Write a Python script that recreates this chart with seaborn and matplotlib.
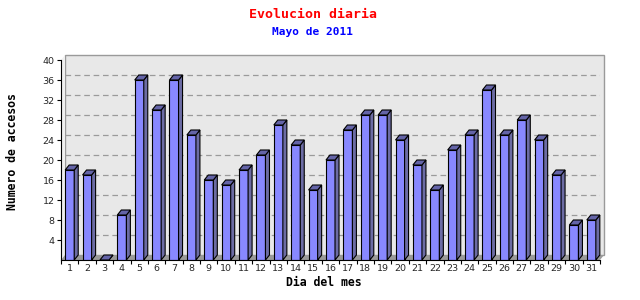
import matplotlib
matplotlib.use("Agg")
import matplotlib.pyplot as plt
import matplotlib.transforms as mtransforms
from matplotlib.patches import Polygon, Rectangle
import seaborn as sns
import pandas as pd
import numpy as np

# ---- data ----
dias = [str(d) for d in range(1, 32)]
accesos = [18, 17, 0, 9, 36, 30, 36, 25, 16, 15, 18, 21, 27, 23, 14, 20,
           26, 29, 29, 24, 19, 14, 22, 25, 34, 25, 28, 24, 17, 7, 8]
y_ticks = [4, 8, 12, 16, 20, 24, 28, 32, 36, 40]

titulo = "Evolucion diaria"
subtitulo = "Mayo de 2011"
xlabel = "Dia del mes"
ylabel = "Numero de accesos"

# ---- style ----
sns.set_theme(style="white")
plt.rcParams["font.family"] = ["DejaVu Sans"]
MONO = "DejaVu Sans Mono"

W, H = 640, 300
fig = plt.figure(figsize=(W / 100, H / 100), dpi=100)
fig.patch.set_facecolor("white")

L, R, B, T = 61, 600, 260, 60  # front plane in pixels (T/B from top)
ax = fig.add_axes([L / W, (H - B) / H, (R - L) / W, (B - T) / H])
ax.set_facecolor("none")

df = pd.DataFrame({"dia": dias, "accesos": accesos})
sns.barplot(data=df, x="dia", y="accesos", color="#8888ff", saturation=1,
            width=0.52, edgecolor="black", linewidth=0.8, ax=ax, zorder=4)

n = len(dias)
ax.set_xlim(-0.5, n - 0.5)
ax.set_ylim(0, 40)

DXP, DYP = 4, 5
dx = DXP / ((R - L) / n)
dy = DYP / ((B - T) / 40)
off = mtransforms.ScaledTranslation(DXP / 100, DYP / 100, fig.dpi_scale_trans)

# back plane
ax.add_patch(Rectangle((0, 0), 1, 1, transform=ax.transAxes + off,
                       facecolor="#e8e8e8", edgecolor="#9a9a9a", lw=1,
                       zorder=0, clip_on=False))
# left wall
x0l = -0.5
ax.add_patch(Polygon([(x0l, 0), (x0l + dx, dy), (x0l + dx, 40 + dy), (x0l, 40)],
                     closed=True, facecolor="#f0f0f0", edgecolor="none",
                     zorder=0.5, clip_on=False))
# floor
x1r = n - 0.5
ax.add_patch(Polygon([(x0l, 0), (x1r, 0), (x1r + dx, dy), (x0l + dx, dy)],
                     closed=True, facecolor="#9a9a9a", edgecolor="none",
                     zorder=1, clip_on=False))
# gridlines on back plane
ax.hlines(y_ticks[:-1], x0l, x1r, transform=ax.transData + off,
          colors="#9a9a9a", linestyles=(0, (4.5, 3)), linewidth=0.9, zorder=2)

# 3D bar sides and tops
for p in list(ax.patches):
    if not isinstance(p, Rectangle) or p.get_zorder() != 4:
        continue
    x0 = p.get_x()
    w = p.get_width()
    h = p.get_height()
    top = Polygon([(x0, h), (x0 + w, h), (x0 + w + dx, h + dy), (x0 + dx, h + dy)],
                  closed=True, facecolor="#6464a8", edgecolor="black", lw=0.8,
                  zorder=4, clip_on=False)
    side = Polygon([(x0 + w, 0), (x0 + w + dx, dy), (x0 + w + dx, h + dy), (x0 + w, h)],
                   closed=True, facecolor="#6c6ca4", edgecolor="black", lw=0.8,
                   zorder=4, clip_on=False)
    ax.add_patch(side)
    ax.add_patch(top)

# spines
for s in ["top", "right"]:
    ax.spines[s].set_visible(False)
for s in ["left", "bottom"]:
    ax.spines[s].set_color("black")
    ax.spines[s].set_linewidth(0.8)
    ax.spines[s].set_zorder(5)

ax.set_yticks(y_ticks)
ax.set_yticklabels([str(v) for v in y_ticks], fontsize=6.8)
ax.tick_params(axis="y", direction="out", length=3, width=0.8, color="black",
               pad=1.5, left=True)
ax.set_xticks(range(n))
ax.set_xticklabels(dias, fontsize=6.8)
ax.tick_params(axis="x", which="major", length=0, pad=3, bottom=True)
ax.set_xticks(np.arange(-0.5, n, 1.0), minor=True)
ax.tick_params(axis="x", which="minor", direction="out", length=3, width=0.8,
               color="black", bottom=True)
ax.set_xlabel("")
ax.set_ylabel("")

# titles and labels
fig.text(313 / W, 1 - 14 / H, titulo, ha="center", va="center", color="#ff0000",
         fontfamily=MONO, fontweight="bold", fontsize=9.5)
fig.text(313 / W, 1 - 32 / H, subtitulo, ha="center", va="center", color="#0000ff",
         fontfamily=MONO, fontweight="bold", fontsize=8)
fig.text(324 / W, 1 - 282 / H, xlabel, ha="center", va="center", color="black",
         fontfamily=MONO, fontweight="bold", fontsize=8.3)
fig.text(13 / W, 1 - 152 / H, ylabel, ha="center", va="center", color="black",
         rotation=90, fontfamily=MONO, fontweight="bold", fontsize=8.3)

fig.savefig("out.png", dpi=100)
